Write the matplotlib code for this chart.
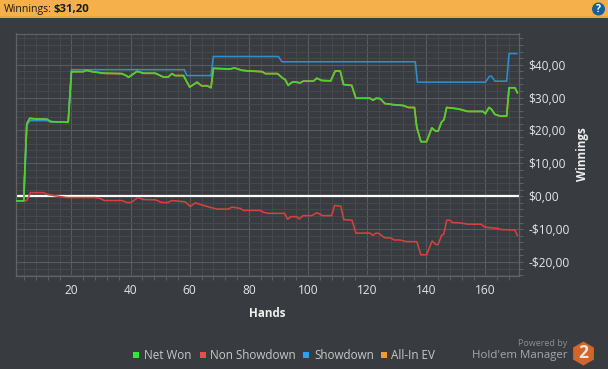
import matplotlib
matplotlib.use("Agg")
import matplotlib.pyplot as plt
from matplotlib.patches import Circle, RegularPolygon, Rectangle
from matplotlib.ticker import FixedLocator, FuncFormatter, MultipleLocator

plt.rcParams['font.family'] = ['Open Sans', 'DejaVu Sans']

W, H = 608, 369
BG = '#383C40'
TITLE_LABEL = 'Winnings:'
TITLE_VALUE = '$31,20'
X_LABEL = 'Hands'
Y_LABEL = 'Winnings'
SERIES_NAMES = ['Net Won', 'Non Showdown', 'Showdown', 'All-In EV']

net_hands = [1, 3.9, 4.1, 4.9, 5.9, 8, 11.8, 13, 18.9, 20, 24, 25, 27, 31, 37, 38.5, 39.3, 42.2, 44.4, 48.4,
             51, 52.8, 54, 55, 57.9, 60, 62.5, 64, 65.9, 67.2, 68, 73.5, 75.2, 77.7, 80, 84.5, 85.6, 89.7,
             91.6, 92.3, 93.3, 94, 95, 97.4, 98.4, 101.8, 103, 104.7, 107.7, 109.2, 110.9, 112, 114.8, 116.2,
             121, 122, 123, 124.4, 126, 128.4, 132.2, 134, 136, 136.8, 138.2, 140.1, 141.9, 143.2, 144, 145.2,
             146, 146.9, 150.7, 154, 159.2, 160, 161.2, 162.1, 163.2, 165, 167.2, 168, 170, 170.8]
net_vals = [-1.4, -1.4, 5, 22, 23.7, 23.5, 23.4, 22.7, 22.5, 37.9, 37.9, 38.3, 37.9, 37.4, 37.3, 36.7, 36.2, 38, 37.4, 37.4,
            36.3, 36.3, 37.3, 36.7, 36.7, 33.2, 34.7, 33.6, 33.6, 33, 38.9, 38.7, 39, 38.3, 38.1, 37.9, 37.3, 37.3,
            35.8, 35.5, 33.7, 34.3, 34.8, 34.5, 35, 35, 35.9, 35.2, 35.1, 38.1, 38.1, 34, 33.7, 29.8,
            29.8, 29.2, 29.8, 29.7, 28.2, 27.9, 27.6, 27, 27, 21, 16.6, 16.6, 20.8, 19.8, 19.8, 22.6,
            23.3, 27, 26.6, 25.8, 25.8, 25.1, 27, 26.4, 24.9, 24.4, 24.4, 33, 33, 31.5]

sd_hands = [1, 3.9, 4.9, 6, 11.8, 13, 18.9, 20, 58.2, 59, 67.2, 68, 90, 91.2, 136.3, 137, 160, 161.4, 162.1, 163.2, 167.2, 168, 170.6]
sd_vals = [-1.4, -1.4, 21.6, 23, 23, 22.6, 22.6, 38.5, 38.5, 36.7, 36.7, 42.5, 42.5, 40.9, 40.9, 34.7, 34.7, 36.5, 36.5, 35, 35, 43.4, 43.4]

nsd_hands = [1, 4.4, 5, 6.1, 10.6, 12, 18.5, 28.1, 29.8, 31.1, 37.1, 38.8, 40.2, 42.4, 44.4, 48.4, 50.6, 52.5, 54, 58.5,
             60.2, 61.9, 63.6, 67, 69.2, 73.1, 74.3, 77.1, 78.2, 83.9, 85, 86.6, 92.1, 93.1, 94.2, 96.2, 97.1,
             98.3, 101.3, 103, 105, 108, 109, 111.1, 112.1, 114.9, 116.2, 121, 121.9, 123, 124, 125.9, 128.1,
             129.2, 131.1, 133.4, 136.8, 138.2, 140.1, 142, 143.2, 144, 145.2, 146, 146.9, 148, 148.9, 151.4,
             154.2, 158.5, 159.9, 164.4, 165, 170, 170.8]
nsd_vals = [-1.4, -1.4, -1.2, 1.1, 1.1, 0.5, -0.4, -0.4, -0.7, -1.3, -1.3, -1.9, -1.9, -0.4, -1, -1.1, -1.9, -1.9, -1.3, -1.7,
            -3.1, -2, -2.5, -3.4, -3.9, -3.9, -3.3, -3.7, -4.3, -4.3, -4.9, -5.2, -5.2, -7, -6.2, -6.2, -6.9,
            -5.9, -5.9, -5, -5.9, -5.9, -2.8, -3, -7.1, -7.3, -11.2, -11.2, -11.9, -11.2, -11.3, -12.6, -12.7,
            -13.3, -13.3, -13.8, -13.8, -17.8, -17.8, -13.6, -14.7, -14.7, -11.9, -11.4, -7.3, -7.3, -8, -8.1,
            -8.5, -8.5, -9.4, -9.8, -10.1, -10.3, -11.9]

x_major = [20, 40, 60, 80, 100, 120, 140, 160]
y_major = [-20, -10, 0, 10, 20, 30, 40]
leg_colors = ['#35E63A', '#F0484E', '#33A0E6', '#F29A3A']


def money(v, _pos=None):
    v = int(round(v))
    return f"${v},00" if v >= 0 else f"-${-v},00"


fig = plt.figure(figsize=(W / 100, H / 100), dpi=100, facecolor=BG)

L, R, T, B = 15.5, 518.5, 33.5, 275.5
ax = fig.add_axes([L / W, 1 - B / H, (R - L) / W, (B - T) / H], facecolor=BG)
ax.set_xlim(1.08, 171.2)
ax.set_ylim(-24.1, 49.5)

ax.xaxis.set_major_locator(FixedLocator(x_major))
ax.xaxis.set_minor_locator(MultipleLocator(4))
ax.yaxis.set_major_locator(FixedLocator(y_major))
ax.yaxis.set_minor_locator(MultipleLocator(2))
ax.yaxis.set_major_formatter(FuncFormatter(money))
ax.yaxis.tick_right()
ax.yaxis.set_label_position('right')

ax.grid(which='minor', color='#46494C', lw=0.72, zorder=1)
ax.grid(which='major', color='#595C5E', lw=0.8, zorder=1)
ax.set_axisbelow(True)
ax.tick_params(which='both', colors='#5D6062', length=3, width=0.75)
ax.tick_params(axis='x', which='major', length=0, labelsize=8.6, labelcolor='#E6E6E6', pad=6)
ax.tick_params(axis='y', which='major', length=3, labelsize=8.6, labelcolor='#E6E6E6', pad=4)
for s in ax.spines.values():
    s.set_color('#606365')
    s.set_linewidth(0.9)

ax.axhline(0, color='white', lw=1.6, zorder=2)
ax.plot(net_hands, net_vals, color='#F49A3C', lw=1.1, zorder=2.5, solid_joinstyle='round')
ax.plot(sd_hands, sd_vals, color='#2F8FCB', lw=1.15, zorder=3, solid_joinstyle='round')
ax.plot(nsd_hands, nsd_vals, color='#D4413F', lw=1.15, zorder=3, solid_joinstyle='round')
ax.plot(net_hands, net_vals, color='#50CF2E', lw=1.25, zorder=4, solid_joinstyle='round')

ov = fig.add_axes([0, 0, 1, 1], facecolor='none')
ov.set_xlim(0, W)
ov.set_ylim(H, 0)
ov.axis('off')
ov.add_patch(Rectangle((0, 0), W, 18, color='#F5B04B', lw=0))
ov.add_patch(Rectangle((0, 15.5), W, 2.5, color='#E9A441', lw=0))
ov.text(4, 9.2, TITLE_LABEL, color='#1A1A1A', fontsize=7.6, va='center', ha='left')
ov.text(54, 9.2, TITLE_VALUE, color='#1A1A1A', fontsize=8.2, va='center', ha='left', fontweight='bold')
ov.add_patch(Circle((598.5, 9), 6.5, color='#14609F', lw=0))
ov.text(598.5, 9, '?', color='white', fontsize=7.5, fontweight='bold', ha='center', va='center')

ov.text(267, 313.5, X_LABEL, color='#F0F0F0', fontsize=8.4, fontweight='bold', ha='center', va='center')
ov.text(582.5, 154, Y_LABEL, color='#F0F0F0', fontsize=8.4, fontweight='bold', ha='center', va='center', rotation=90)

for name, color, mx, tx in zip(SERIES_NAMES, leg_colors, [135.5, 202.5, 305.5, 383.5], [144, 210, 314, 391]):
    ov.add_patch(Rectangle((mx - 3, 352), 6, 6, color=color, lw=0))
    ov.text(tx, 355.5, name, color='#C8C8C8', fontsize=8.4, ha='left', va='center')

ov.text(567, 344, 'Powered by', color='#8C8E90', fontsize=6.5, ha='right', va='center')
ov.text(567, 355.5, "Hold'em Manager", color='#A6A8AA', fontsize=8.25, ha='right', va='center')
ov.add_patch(RegularPolygon((583.5, 353.5), 6, radius=12, orientation=0, color='#D2652A', lw=0))
ov.text(583.5, 353.5, '2', color='#F0E8E0', fontsize=12.5, fontweight='bold', ha='center', va='center')

fig.savefig('out.png', dpi=100, facecolor=BG)
